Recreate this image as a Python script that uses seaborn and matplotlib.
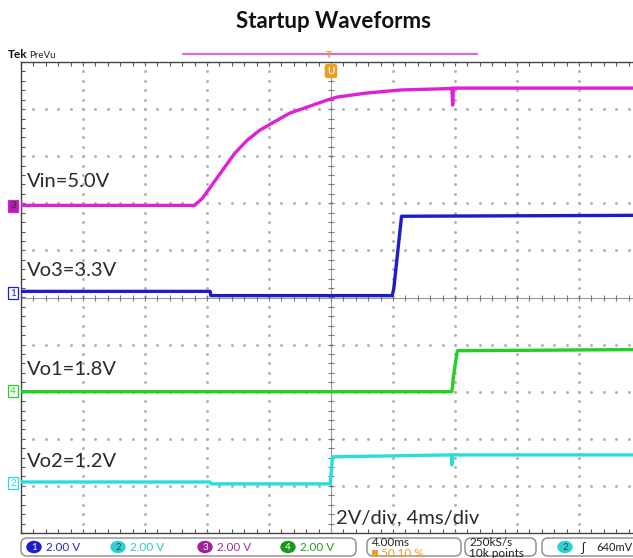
import numpy as np
import matplotlib
matplotlib.use("Agg")
import matplotlib.pyplot as plt
from matplotlib.patches import FancyBboxPatch, Ellipse
import seaborn as sns

sns.set_theme(style="white")
plt.rcParams["font.family"] = ["Lato", "DejaVu Sans"]

# time in ms, voltage in V
vin_t = [-20, -8.8, -8.3, -7.6, -7.0, -6.2, -5.4, -4.6, -3.7, -2.65, -1.55, -0.25, 0.4, 2.3, 4.5, 7.7, 7.8, 7.85, 7.9, 20]
vin_v = [0.04, 0.04, 0.34, 0.98, 1.53, 2.26, 2.81, 3.23, 3.57, 3.96, 4.21, 4.51, 4.64, 4.81, 4.94, 5.0, 5.02, 4.3, 5.02, 5.02]

vo3_t = [-20, -7.8, -7.75, 3.95, 4.05, 4.55, 20]
vo3_v = [0.09, 0.09, -0.09, -0.09, 0.2, 3.28, 3.32]

vo1_t = [-20, 7.8, 7.9, 8.15, 20]
vo1_v = [0.0, 0.0, 0.65, 1.74, 1.79]

vo2_t = [-20, -7.8, -7.75, -0.05, 0.1, 7.75, 7.8, 7.85, 20]
vo2_v = [0.08, 0.08, 0.0, 0.0, 1.15, 1.23, 0.8, 1.23, 1.23]

volts_per_div = 2.0

# channel: (times, volts, ground in divisions, colour, label)
channels = {
    "3": (vin_t, vin_v, 1.936, "#e020d8", "Vin=5.0V"),
    "1": (vo3_t, vo3_v, 0.085, "#1c1cc8", "Vo3=3.3V"),
    "4": (vo1_t, vo1_v, -2.0, "#22d022", "Vo1=1.8V"),
    "2": (vo2_t, vo2_v, -3.957, "#26dede", "Vo2=1.2V"),
}

W, H = 633, 558
fig = plt.figure(figsize=(W / 100, H / 100), dpi=100)
ax = fig.add_axes([21 / W, 1 - 533 / H, 620 / W, 471 / H])
ax.set_xlim(-20, 20)
ax.set_ylim(-5, 5)

# graticule
grid_c = "#b0b0b0"
minor_x = np.arange(-20, 20.01, 0.8)
minor_y = np.arange(-5, 5.01, 0.2)
for gx in np.arange(-16, 17, 4):
    if gx != 0:
        ax.plot(np.full_like(minor_y, gx), minor_y, ls="none", marker="o", ms=1.1, color=grid_c, zorder=1)
for gy in np.arange(-4, 5, 1):
    if gy != 0:
        ax.plot(minor_x, np.full_like(minor_x, gy), ls="none", marker="o", ms=1.1, color=grid_c, zorder=1)
ax.axhline(0, color="#9a9a9a", lw=0.8, zorder=1)
ax.axvline(0, color="#9a9a9a", lw=0.8, zorder=1)
ax.plot(minor_x, np.zeros_like(minor_x), ls="none", marker="|", ms=4, mew=0.8, color="#777777", zorder=1)
ax.plot(np.zeros_like(minor_y), minor_y, ls="none", marker="_", ms=4, mew=0.8, color="#777777", zorder=1)

ax.set_xticks(minor_x)
ax.set_yticks(minor_y)
ax.set_xticklabels([])
ax.set_yticklabels([])
ax.tick_params(axis="both", direction="in", length=3, width=0.8, color="#555555",
               top=True, bottom=True, left=True, right=False)
for side in ["top", "left", "bottom"]:
    ax.spines[side].set_color("#444444")
    ax.spines[side].set_linewidth(1.0)
ax.spines["right"].set_visible(False)

for num, (t, v, gnd, col, lab) in channels.items():
    y = [gnd + val / volts_per_div for val in v]
    sns.lineplot(x=t, y=y, ax=ax, color=col, lw=2.4, sort=False, estimator=None, zorder=3)

lab_c = "#2a2a2a"
ax.text(-19.6, 1.936 + 0.35, "Vin=5.0V", fontsize=14.5, color=lab_c, va="bottom")
ax.text(-19.6, 0.085 + 0.3, "Vo3=3.3V", fontsize=14.5, color=lab_c, va="bottom")
ax.text(-19.6, -2.0 + 0.3, "Vo1=1.8V", fontsize=14.5, color=lab_c, va="bottom")
ax.text(-19.6, -3.957 + 0.3, "Vo2=1.2V", fontsize=14.5, color=lab_c, va="bottom")
ax.text(0.3, -4.85, "2V/div, 4ms/div", fontsize=14.5, color=lab_c, va="bottom")

# overlay in pixel coordinates for the scope chrome
ov = fig.add_axes([0, 0, 1, 1], zorder=5)
ov.set_xlim(0, W)
ov.set_ylim(H, 0)
ov.axis("off")
ov.patch.set_alpha(0)

fig.text(333 / W, 1 - 21 / H, "Startup Waveforms", ha="center", va="center",
         fontsize=16, fontweight="bold", color="#111111")

ov.text(8, 55, "Tek", fontsize=8.5, fontweight="bold", va="center", color="#111111")
ov.text(29, 55, "PreVu", fontsize=7, va="center", color="#222222")
ov.plot([183, 477], [54, 54], color="#d070d0", lw=1.6)
ov.text(329, 55, "T", fontsize=7.5, fontweight="bold", color="#e8a020", ha="center", va="center")
ov.text(331, 71, "U", fontsize=7, fontweight="bold", color="white", ha="center", va="center",
        bbox=dict(boxstyle="round,pad=0.2", fc="#e8a020", ec="#e8a020"))

# channel ground markers
marker_y = {"3": 206, "1": 293, "4": 391, "2": 483}
for num, (t, v, gnd, col, lab) in channels.items():
    filled = num == "3"
    ov.text(13, marker_y[num], num, fontsize=7, ha="center", va="center",
            color="#333333" if filled else col,
            bbox=dict(boxstyle="square,pad=0.2", fc="#b020b0" if filled else "white", ec=col, lw=0.9))

# status bar
def box(x0, x1):
    ov.add_patch(FancyBboxPatch((x0, 538), x1 - x0, 18, boxstyle="round,pad=0,rounding_size=6",
                                ec="#8a8a8a", fc="white", lw=1.0))

box(21, 356)
box(367, 461)
box(465, 536)
box(542, 660)

status = [("1", 34, "#1c1cc8", "#2a2ac0"), ("2", 118, "#30d0d0", "#30c8c8"),
          ("3", 205, "#a020a0", "#a030a0"), ("4", 288, "#1a9a1a", "#20a020")]
for num, cx, fc, tc in status:
    ov.add_patch(Ellipse((cx, 547), 14, 11, fc=fc, ec=fc))
    ov.text(cx, 547.5, num, fontsize=7, color="white" if num != "2" else "#115555",
            ha="center", va="center")
    ov.text(cx + 12, 547.5, "2.00 V", fontsize=8.5, color=tc, va="center")

ov.text(372, 543, "4.00ms", fontsize=8.5, color="#222222", va="center")
ov.add_patch(FancyBboxPatch((372, 550), 6, 6, boxstyle="square,pad=0", fc="#e8a020", ec="none"))
ov.text(381, 553.5, "50.10 %", fontsize=8.5, color="#e8a020", va="center")
ov.text(469, 543, "250kS/s", fontsize=8.5, color="#222222", va="center")
ov.text(469, 553.5, "10k points", fontsize=8.5, color="#222222", va="center")
ov.add_patch(Ellipse((565, 547), 14, 11, fc="#30d0d0", ec="#30d0d0"))
ov.text(565, 547.5, "2", fontsize=7, color="#115555", ha="center", va="center")
ov.text(581, 547.5, "ʃ", fontsize=9, color="#222222", va="center")
ov.text(596, 547.5, "640mV", fontsize=8, color="#222222", va="center")

fig.savefig("out.png", dpi=100)
